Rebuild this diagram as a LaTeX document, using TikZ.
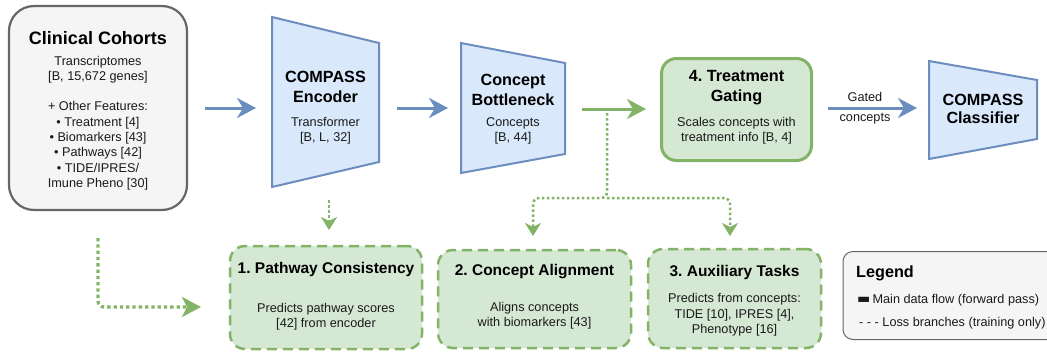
\documentclass[tikz,border=0pt]{standalone}
\usepackage{fontspec}
\setmainfont{Liberation Sans}
\newfontfamily\symfont{DejaVu Sans}
\usetikzlibrary{arrows.meta}
\definecolor{bfill}{HTML}{DAE8FC}
\definecolor{bline}{HTML}{6C8EBF}
\definecolor{gfill}{HTML}{D5E8D4}
\definecolor{gline}{HTML}{82B366}
\definecolor{kfill}{HTML}{F5F5F5}
\definecolor{kline}{HTML}{666666}
\definecolor{txt}{HTML}{1A1A1A}
\frenchspacing
\begin{document}
\begin{tikzpicture}[x=1pt,y=-1pt,
 ttl/.style={font=\fontsize{16.2}{20}\selectfont\bfseries,align=center,inner sep=0pt,text=black},
 ttlsm/.style={font=\fontsize{15.5}{19}\selectfont\bfseries,align=center,inner sep=0pt,text=black},
 bdy/.style={font=\fontsize{12.7}{15.3}\selectfont,align=center,inner sep=0pt,text=txt},
 trap/.style={draw=bline,fill=bfill,line width=2pt,line join=miter},
 greybox/.style={draw=kline,fill=kfill,line width=2.2pt,rounded corners=25pt},
 gbox/.style={draw=gline,fill=gfill,line width=3pt,rounded corners=15pt},
 lossbox/.style={draw=gline,fill=gfill,line width=2.5pt,dash pattern=on 10pt off 6pt,rounded corners=15pt},
 legbox/.style={draw=kline,fill=kfill,line width=1pt,rounded corners=10pt},
 flowblue/.style={draw=bline,line width=3pt,-{Stealth[length=19pt,width=20pt,inset=6pt]}},
 flowgreen/.style={draw=gline,line width=3pt,-{Stealth[length=19pt,width=20pt,inset=6pt]}},
 lossarrow/.style={draw=gline,line width=2.5pt,dash pattern=on 2.5pt off 2.5pt,rounded corners=6pt,-{Stealth[length=13pt,width=16pt,inset=4pt]}},
 lossthick/.style={draw=gline,line width=3.3pt,dash pattern=on 3.3pt off 3pt,rounded corners=6pt,-{Stealth[length=19pt,width=20pt,inset=5pt]}},
]
\useasboundingbox (0,0) rectangle (1047,351);
\clip (0,0) rectangle (1047,351);

% ---- Clinical cohorts
\node[greybox,minimum width=178pt,minimum height=204pt] (cohorts) at (98,108) {};
\node[font=\fontsize{18}{21}\selectfont\bfseries,inner sep=0pt] (cohortsT) at (98,38) {Clinical Cohorts};
\node[bdy] (cohortsB) at (98,123) {Transcriptomes\\{[B, 15,672 genes]}\\[15.3pt]+ Other Features:\\• Treatment [4]\\• Biomarkers [43]\\• Pathways [42]\\• TIDE/IPRES/\\Imune Pheno [30]};

% ---- Encoder
\draw[trap] (272,17) -- (379,43) -- (379,162) -- (272,187) -- cycle;
\node[ttl] (encT) at (325.5,87) {COMPASS\\Encoder};
\node[bdy] (encB) at (325.5,130.5) {Transformer\\{[B, L, 32]}};

% ---- Bottleneck
\draw[trap] (461,43) -- (565,63) -- (565,154) -- (461,173) -- cycle;
\node[ttl] (botT) at (513,90) {Concept\\Bottleneck};
\node[bdy] (botB) at (513,131) {Concepts\\{[B, 44]}};

% ---- Gating
\node[gbox,minimum width=150pt,minimum height=102pt] (gate) at (736.5,109.5) {};
\node[ttl] (gateT) at (736.5,88) {4. Treatment\\Gating};
\node[bdy] (gateB) at (736.5,131) {Scales concepts with\\treatment info [B, 4]};

% ---- Classifier
\draw[trap] (929,61) -- (1037,80) -- (1037,139) -- (929,159) -- cycle;
\node[ttl,font=\fontsize{16.2}{18.5}\selectfont\bfseries] (clsT) at (983,109) {COMPASS\\Classifier};

% ---- Loss boxes
\node[lossbox,minimum width=192pt,minimum height=103pt] (p1) at (326,297.5) {};
\node[ttlsm] (p1T) at (326,269) {1. Pathway Consistency};
\node[bdy] (p1B) at (326,316.5) {Predicts pathway scores\\{[42] from encoder}};

\node[lossbox,minimum width=193pt,minimum height=98pt] (p2) at (534.5,299) {};
\node[ttlsm] (p2T) at (534.5,272) {2. Concept Alignment};
\node[bdy] (p2B) at (534.5,315.5) {Aligns concepts\\with biomarkers [43]};

\node[lossbox,minimum width=173pt,minimum height=99pt] (p3) at (734.5,298.5) {};
\node[ttlsm] (p3T) at (734.5,272) {3. Auxiliary Tasks};
\node[bdy] (p3B) at (734.5,315) {Predicts from concepts:\\TIDE [10], IPRES [4],\\Phenotype [16]};

% ---- Legend
\node[legbox,minimum width=216pt,minimum height=88pt] (leg) at (951,295.5) {};
\node[ttl,anchor=west] (legT) at (856,273) {Legend};
\node[bdy,anchor=west] (leg1) at (857,300) {{\symfont\fontsize{14}{15}\selectfont ▬}\,Main data flow (forward pass)};
\node[bdy,anchor=west] (leg2) at (859,323) {- - - Loss branches (training only)};

% ---- Main flow arrows
\coordinate (a1s) at (205,108); \coordinate (a1e) at (256,108);
\coordinate (a2s) at (397,108); \coordinate (a2e) at (448,108);
\coordinate (a3s) at (582,109); \coordinate (a3e) at (646,109);
\coordinate (a4s) at (828,108); \coordinate (a4e) at (917,108);
\draw[flowblue] (a1s) -- (a1e);
\draw[flowblue] (a2s) -- (a2e);
\draw[flowgreen] (a3s) -- (a3e);
\draw[flowblue] (a4s) -- (a4e);
\node[bdy,font=\fontsize{12.7}{20}\selectfont] (gatedL) at (865,108) {Gated\\concepts};

% ---- Loss branches
\coordinate (e1s) at (329,200); \coordinate (e1e) at (329,230);
\draw[lossarrow] (e1s) -- (e1e);
\coordinate (bs) at (607,113); \coordinate (bj) at (607,198);
\coordinate (b2e) at (533,236); \coordinate (b3e) at (730,236);
\draw[lossarrow] (bs) -- (bj) -| (b2e);
\draw[lossarrow] (bj) -| (b3e);
\coordinate (cs) at (98,238); \coordinate (ce) at (201,307);
\draw[lossthick] (cs) |- (ce);
\end{tikzpicture}
\end{document}
